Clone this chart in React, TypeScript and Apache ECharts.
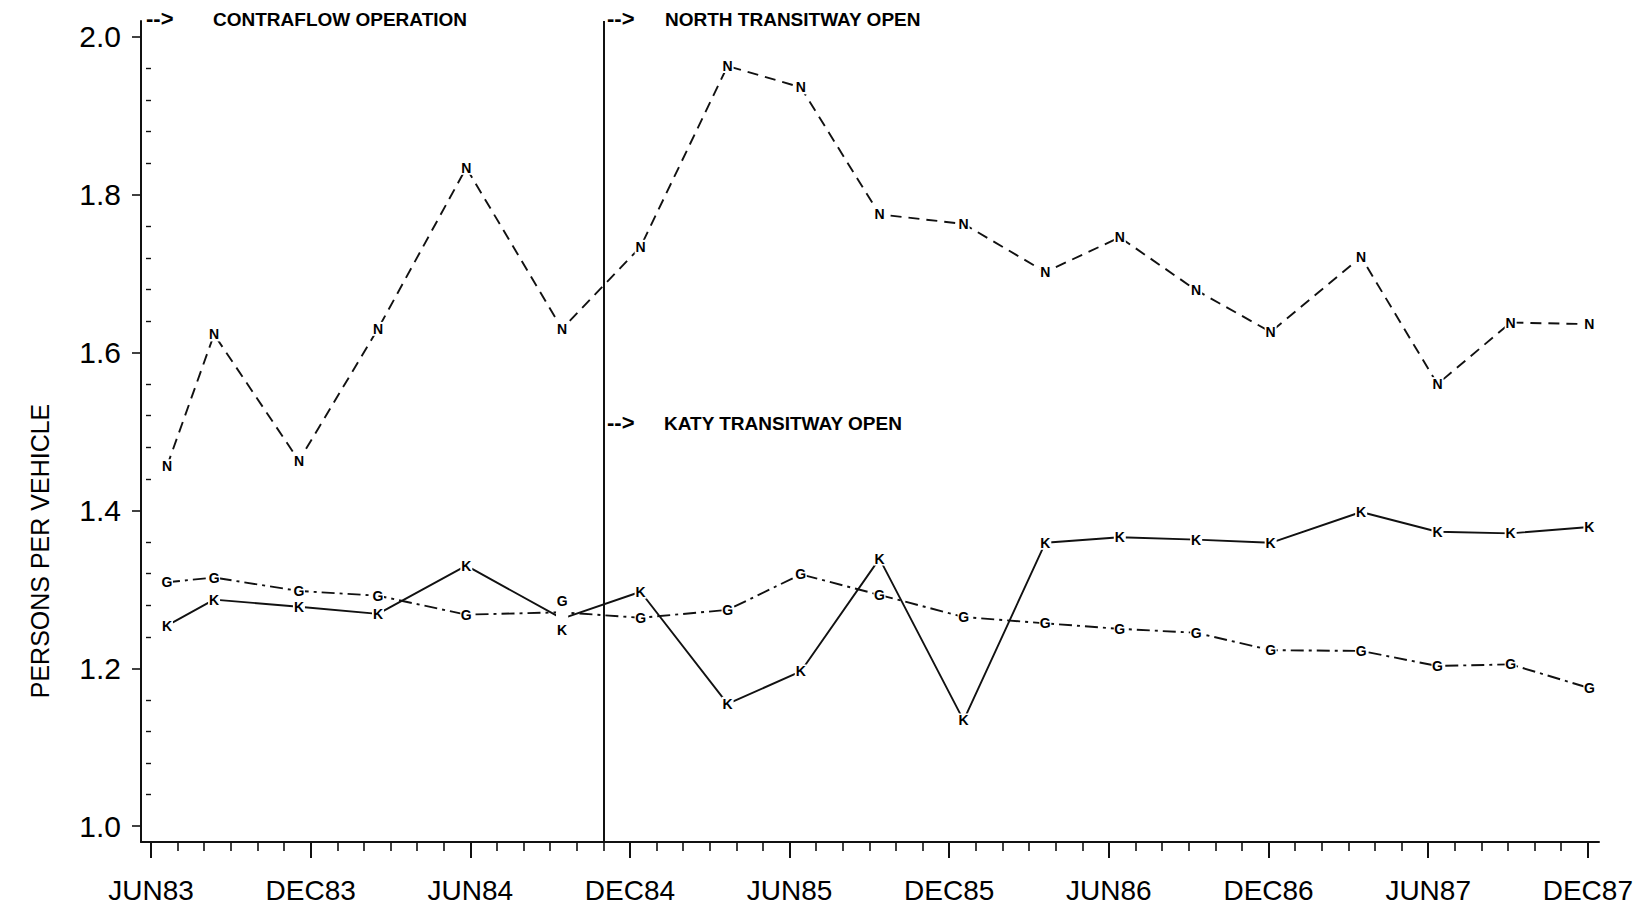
import React, { useEffect, useRef } from "react";
import * as echarts from "echarts";

// months since JUN83 for each survey
const surveyMonths = [0.6, 2.37, 5.56, 8.53, 11.85, 15.45, 18.4, 21.67, 24.42, 27.38, 30.54, 33.61, 36.41, 39.28, 42.08, 45.48, 48.35, 51.1, 54.06];
const northValues = [1.456, 1.623, 1.463, 1.63, 1.834, 1.63, 1.734, 1.963, 1.936, 1.775, 1.763, 1.702, 1.746, 1.679, 1.626, 1.721, 1.56, 1.638, 1.636];
const katyValues = [1.254, 1.287, 1.278, 1.269, 1.33, 1.263, 1.297, 1.155, 1.196, 1.339, 1.134, 1.359, 1.366, 1.363, 1.359, 1.398, 1.373, 1.371, 1.379];
const gulfValues = [1.309, 1.315, 1.298, 1.292, 1.268, 1.271, 1.264, 1.274, 1.319, 1.293, 1.265, 1.257, 1.25, 1.245, 1.223, 1.222, 1.203, 1.205, 1.175];
const xTickLabels = ["JUN83", "DEC83", "JUN84", "DEC84", "JUN85", "DEC85", "JUN86", "DEC86", "JUN87", "DEC87"];
const yTickValues = [1.0, 1.2, 1.4, 1.6, 1.8, 2.0];
const transitwayMonth = 17; // NOV84
const crowdedPoint = 5; // K and G letters nearly coincide here

const FONT = "'Liberation Sans', Arial, sans-serif";
const INK = "#111";

export default function App() {
  const ref = useRef<HTMLDivElement>(null);
  useEffect(() => {
    if (!ref.current) return;
    const chart = echarts.init(ref.current, null, { renderer: "svg" });
    const majorX = xTickLabels.map((_, i) => i * 6);
    const minorX: number[] = [];
    for (let m = 0; m <= 54; m++) if (m % 6 !== 0) minorX.push(m);
    const minorY: number[] = [];
    for (let i = 0; i <= 25; i++) {
      const v = +(1 + i * 0.04).toFixed(2);
      if (Math.abs(v * 5 - Math.round(v * 5)) > 1e-6) minorY.push(v);
    }
    const mk = (arr: number[], crowdPos: string | null) =>
      surveyMonths.map((m, i) =>
        i === crowdedPoint && crowdPos
          ? { value: [m, arr[i]], label: { position: crowdPos, distance: -3 } }
          : { value: [m, arr[i]] }
      );
    const seriesBase = (name: string, letter: string, data: any[], lineType: any) => ({
      name,
      type: "line",
      data,
      xAxisIndex: 0,
      yAxisIndex: 0,
      symbol: "rect",
      symbolSize: [12, 14],
      itemStyle: { color: "#fff", borderWidth: 0 },
      lineStyle: { color: INK, width: 1.9, type: lineType },
      label: {
        show: true,
        position: "inside",
        formatter: letter,
        color: "#000",
        fontSize: 14,
        fontWeight: "bold",
        fontFamily: FONT,
        lineHeight: 14,
      },
      labelLayout: { hideOverlap: false },
      emphasis: { disabled: true },
      z: 3,
    });
    const arrowStyle = { text: "-->", fontSize: 22, fontWeight: "bold", fontFamily: FONT, fill: "#000", verticalAlign: "middle" };
    const noteStyle = { fontSize: 19, fontWeight: "bold", fontFamily: FONT, fill: "#000", verticalAlign: "middle" };
    chart.setOption({
      animation: false,
      backgroundColor: "#fff",
      grid: { left: 141, right: 45, top: 21, bottom: 67, containLabel: false },
      xAxis: [
        {
          type: "value",
          min: -0.376,
          max: 54.42,
          splitLine: { show: false },
          axisLine: { show: true, onZero: false, lineStyle: { color: INK, width: 2 } },
          axisTick: { show: true, customValues: majorX, length: 16, lineStyle: { color: INK, width: 2 } },
          axisLabel: {
            show: true,
            customValues: majorX,
            formatter: (v: number) => xTickLabels[Math.round(v / 6)] ?? "",
            margin: 34,
            fontSize: 28,
            color: "#000",
            fontFamily: FONT,
          },
        },
        {
          type: "value",
          position: "bottom",
          min: -0.376,
          max: 54.42,
          splitLine: { show: false },
          axisLine: { show: false },
          axisTick: { show: true, customValues: minorX, length: 9, lineStyle: { color: INK, width: 1.6 } },
          axisLabel: { show: false },
        },
      ],
      yAxis: [
        {
          type: "value",
          min: 0.98,
          max: 2.02,
          splitLine: { show: false },
          axisLine: { show: true, onZero: false, lineStyle: { color: INK, width: 2 } },
          axisTick: { show: true, customValues: yTickValues, length: 9, lineStyle: { color: INK, width: 1.6 } },
          axisLabel: {
            show: true,
            customValues: yTickValues,
            formatter: (v: number) => v.toFixed(1),
            margin: 20,
            fontSize: 30,
            color: "#000",
            fontFamily: FONT,
          },
        },
        {
          type: "value",
          position: "left",
          min: 0.98,
          max: 2.02,
          splitLine: { show: false },
          axisLine: { show: false },
          axisTick: { show: true, customValues: minorY, length: 5, lineStyle: { color: INK, width: 1.4 } },
          axisLabel: { show: false },
        },
      ],
      series: [
        {
          ...seriesBase("North", "N", mk(northValues, null), [11, 7]),
          markLine: {
            silent: true,
            symbol: "none",
            label: { show: false },
            lineStyle: { color: INK, width: 2, type: "solid" },
            data: [{ xAxis: transitwayMonth }],
          },
        },
        seriesBase("Katy", "K", mk(katyValues, "bottom"), "solid"),
        seriesBase("Gulf", "G", mk(gulfValues, "top"), [13, 5, 3, 5]),
      ],
      graphic: [
        { type: "text", x: 146, y: 18, style: { ...arrowStyle } },
        { type: "text", x: 213, y: 19, style: { ...noteStyle, text: "CONTRAFLOW OPERATION" } },
        { type: "text", x: 607, y: 18, style: { ...arrowStyle } },
        { type: "text", x: 665, y: 19, style: { ...noteStyle, text: "NORTH TRANSITWAY OPEN" } },
        { type: "text", x: 607, y: 422, style: { ...arrowStyle } },
        { type: "text", x: 664, y: 423, style: { ...noteStyle, text: "KATY TRANSITWAY OPEN" } },
        {
          type: "text",
          x: 40,
          y: 551,
          rotation: Math.PI / 2,
          style: { text: "PERSONS PER VEHICLE", fontSize: 25, fontFamily: FONT, fill: "#000", align: "center", verticalAlign: "middle" },
        },
      ],
    });
    return () => chart.dispose();
  }, []);
  return <div ref={ref} style={{ position: "fixed", left: 0, top: 0, width: 1644, height: 909, background: "#fff" }} />;
}
